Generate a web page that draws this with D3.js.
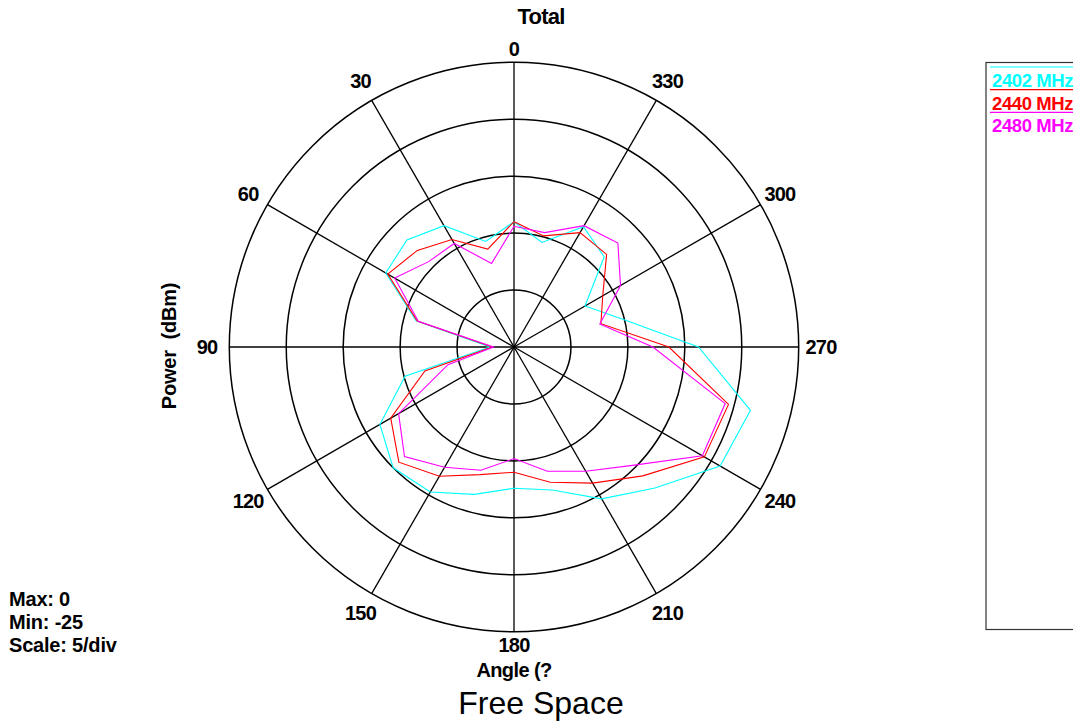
<!DOCTYPE html>
<html>
<head>
<meta charset="utf-8">
<script src="https://cdn.jsdelivr.net/npm/d3@7"></script>
<style>
  body { margin: 0; background: #fff; }
  text { font-family: "Liberation Sans", Arial, sans-serif; }
</style>
</head>
<body>
<div id="chart"></div>
<script>
// angles (deg), counter-clockwise from top
var angles = [0, 15, 30, 45, 60, 75, 90, 105, 120, 135, 150, 165,
              180, 195, 210, 225, 240, 255, 270, 285, 300, 315, 330, 345];

// power in dBm per angle
var p2402 = [-14.0, -15.4, -12.7, -11.7, -12.0, -16.1, -22.9, -15.1, -11.4, -10.0, -10.3, -11.6,
             -12.6, -12.0, -9.6, -7.5, -4.1, -3.5, -8.8, -15.3, -17.8, -13.8, -12.8, -15.5];
var p2440 = [-14.0, -16.1, -14.1, -13.0, -12.2, -16.2, -23.1, -16.9, -12.5, -10.7, -11.9, -13.4,
             -14.0, -12.7, -11.2, -9.0, -5.7, -5.5, -11.4, -17.1, -16.0, -13.5, -13.4, -14.9];
var p2480 = [-14.4, -17.4, -14.5, -14.4, -12.9, -16.3, -23.2, -19.0, -13.3, -11.4, -12.8, -13.8,
             -15.2, -13.7, -12.4, -10.3, -5.9, -5.8, -12.8, -17.2, -14.2, -12.1, -12.7, -14.6];

var seriesNames = ["2402 MHz", "2440 MHz", "2480 MHz"];
var seriesColors = ["#00ffff", "#ff0000", "#ff00ff"];

var ringValues = [-20, -15, -10, -5, 0];
var spokeAngles = [0, 30, 60, 90, 120, 150, 180, 210, 240, 270, 300, 330];
var notes = ["Max: 0", "Min: -25", "Scale: 5/div"];

var width = 1073, height = 721;
var cx = 514, cy = 347;

var svg = d3.select("#chart").append("svg")
    .attr("width", width).attr("height", height);

var r = d3.scaleLinear().domain([-25, 0]).range([0, 284.7]);
var rad = function(a) { return -a * Math.PI / 180; }; // ccw from top

var g = svg.append("g").attr("transform", "translate(" + cx + "," + cy + ")");

// rings
g.selectAll("circle.ring").data(ringValues).enter().append("circle")
    .attr("class", "ring")
    .attr("r", function(d) { return r(d); })
    .attr("fill", "none").attr("stroke", "#000").attr("stroke-width", 1.5);

// spokes
g.selectAll("line.spoke").data(spokeAngles).enter().append("line")
    .attr("x1", 0).attr("y1", 0)
    .attr("x2", function(d) { return r(0) * Math.sin(rad(d)); })
    .attr("y2", function(d) { return -r(0) * Math.cos(rad(d)); })
    .attr("stroke", "#000").attr("stroke-width", 1.3);

// angle labels (top/bottom sit a bit closer to the ring)
var labelR = function(d) { return d % 180 === 0 ? 298 : 307; };
g.selectAll("text.ang").data(spokeAngles).enter().append("text")
    .attr("x", function(d) { return labelR(d) * Math.sin(rad(d)); })
    .attr("y", function(d) { return -labelR(d) * Math.cos(rad(d)); })
    .attr("dy", "0.36em")
    .attr("text-anchor", "middle")
    .attr("font-size", 20).attr("font-weight", "bold")
    .attr("letter-spacing", -0.8)
    .text(function(d) { return d; });

// series
var line = d3.lineRadial()
    .angle(function(d) { return rad(d[0]); })
    .radius(function(d) { return r(d[1]); })
    .curve(d3.curveLinearClosed);

[p2402, p2440, p2480].forEach(function(vals, i) {
    g.append("path")
        .datum(angles.map(function(a, j) { return [a, vals[j]]; }))
        .attr("d", line)
        .attr("fill", "none")
        .attr("stroke", seriesColors[i])
        .attr("stroke-width", 1.1);
});

// titles
svg.append("text").attr("x", 541).attr("y", 24).attr("text-anchor", "middle")
    .attr("font-size", 22).attr("font-weight", "bold").attr("letter-spacing", -0.8)
    .text("Total");
svg.append("text").attr("x", 514).attr("y", 677).attr("text-anchor", "middle")
    .attr("font-size", 20).attr("font-weight", "bold").attr("letter-spacing", -0.6)
    .text("Angle (?");
svg.append("text").attr("x", 541).attr("y", 714).attr("text-anchor", "middle")
    .attr("font-size", 32)
    .text("Free Space");
svg.append("text")
    .attr("transform", "translate(176,346) rotate(-90)")
    .attr("text-anchor", "middle")
    .attr("font-size", 20).attr("font-weight", "bold").attr("letter-spacing", -0.2)
    .attr("xml:space", "preserve")
    .text("Power  (dBm)");

// scale notes
notes.forEach(function(t, i) {
    svg.append("text").attr("x", 9).attr("y", 606 + i * 23)
        .attr("font-size", 20).attr("font-weight", "bold").attr("letter-spacing", -0.2)
        .text(t);
});

// legend
var leg = svg.append("g");
leg.append("rect").attr("x", 986).attr("y", 62.5).attr("width", 120).attr("height", 567)
    .attr("fill", "none").attr("stroke", "#333").attr("stroke-width", 1.2);
seriesNames.forEach(function(n, i) {
    var y0 = 67 + i * 22.7;
    leg.append("line").attr("x1", 990).attr("x2", 1073).attr("y1", y0).attr("y2", y0)
        .attr("stroke", seriesColors[i]).attr("stroke-width", 1.2);
    leg.append("text").attr("x", 992).attr("y", y0 + 20)
        .attr("font-size", 18.5).attr("font-weight", "bold").attr("letter-spacing", -0.4)
        .attr("fill", seriesColors[i])
        .text(n);
});
</script>
</body>
</html>
